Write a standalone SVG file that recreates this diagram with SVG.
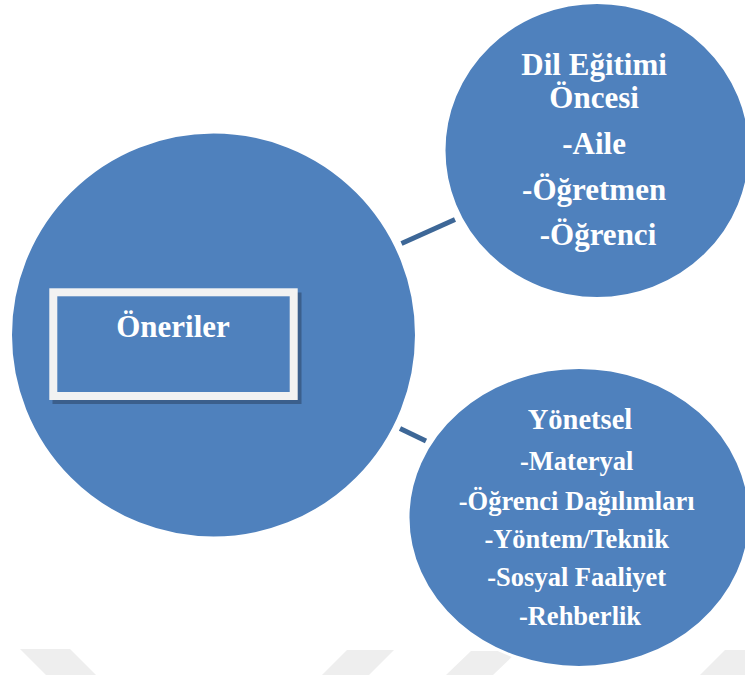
<svg xmlns="http://www.w3.org/2000/svg" width="745" height="675" viewBox="0 0 745 675">
  <style>
    .bubble { fill: #4f81bd; stroke: #ffffff; stroke-width: 3; }
    .lbl { font-family: "Liberation Serif", "Times New Roman", serif; font-weight: bold; fill: #ffffff; text-anchor: middle; }
    .conn { stroke: #3d6797; stroke-width: 5; fill: none; }
    .wm { fill: #eeeeee; }
  </style>
  <rect x="0" y="0" width="745" height="675" fill="#ffffff"/>
  <g id="watermark">
    <polygon class="wm" points="20,649 70,649 96,675 46,675"/>
    <polygon class="wm" points="347,650 394,650 369,675 322,675"/>
    <polygon class="wm" points="471,651 518,651 493,675 446,675"/>
    <polygon class="wm" points="725,650 772,650 747,675 700,675"/>
  </g>
  <g id="connectors">
    <line class="conn" x1="401.5" y1="243.5" x2="455" y2="219.5"/>
    <line class="conn" x1="400" y1="428.5" x2="426" y2="441"/>
  </g>
  <g id="node-oneriler">
    <circle class="bubble" cx="213.5" cy="335" r="203"/>
    <rect x="52.5" y="292.5" width="249" height="111.5" fill="#3b5f8c"/>
    <rect x="53.3" y="292.3" width="240.4" height="103.7" fill="#4f81bd" stroke="#f2f2f2" stroke-width="8"/>
    <text class="lbl" x="173" y="337" font-size="31">Öneriler</text>
  </g>
  <g id="node-dil-egitimi">
    <ellipse class="bubble" cx="597" cy="150.5" rx="153" ry="148"/>
    <text class="lbl" font-size="31">
      <tspan x="598" y="75">Dil Eğitimi</tspan>
      <tspan x="598" y="107.5">Öncesi</tspan>
      <tspan x="598" y="154">-Aile</tspan>
      <tspan x="598" y="200">-Öğretmen</tspan>
      <tspan x="598" y="245">-Öğrenci</tspan>
    </text>
  </g>
  <g id="node-yonetsel">
    <ellipse class="bubble" cx="579" cy="517.5" rx="171" ry="150"/>
    <text class="lbl" font-size="28.5" x="580" y="429">Yönetsel</text>
    <text class="lbl" font-size="26.5">
      <tspan x="580" y="470">-Materyal</tspan>
      <tspan x="580" y="510">-Öğrenci Dağılımları</tspan>
      <tspan x="580" y="547.5">-Yöntem/Teknik</tspan>
      <tspan x="580" y="586">-Sosyal Faaliyet</tspan>
      <tspan x="580" y="624.5">-Rehberlik</tspan>
    </text>
  </g>
</svg>
